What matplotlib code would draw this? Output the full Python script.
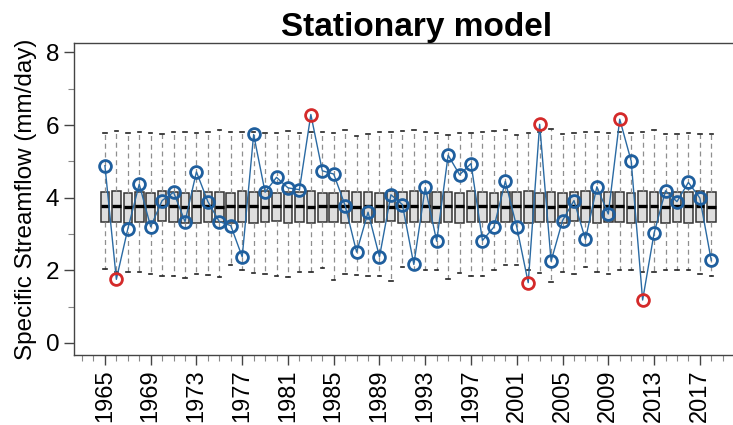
import numpy as np
import matplotlib
matplotlib.use("Agg")
import matplotlib.pyplot as plt
from matplotlib.ticker import MultipleLocator

plt.rcParams['font.family'] = ['Liberation Sans', 'DejaVu Sans']

# years of record
years = list(range(1965, 2019))

# observed specific streamflow (mm/day)
observed = [4.88, 1.75, 3.14, 4.37, 3.20, 3.92, 4.15, 3.34, 4.71, 3.89,
            3.34, 3.23, 2.37, 5.74, 4.15, 4.56, 4.27, 4.22, 6.29, 4.74,
            4.65, 3.78, 2.50, 3.60, 2.37, 4.08, 3.81, 2.16, 4.28, 2.80,
            5.17, 4.63, 4.94, 2.82, 3.19, 4.45, 3.19, 1.66, 6.02, 2.25,
            3.37, 3.92, 2.85, 4.30, 3.55, 6.16, 5.01, 1.18, 3.02, 4.19,
            3.89, 4.42, 3.99, 2.27]

# stationary model boxplot statistics per year
whis_hi = [5.78, 5.84, 5.78, 5.80, 5.78, 5.75, 5.82, 5.80, 5.78, 5.80,
           5.86, 5.82, 5.82, 5.80, 5.78, 5.78, 5.84, 5.78, 5.82, 5.80,
           5.78, 5.87, 5.71, 5.75, 5.82, 5.82, 5.84, 5.86, 5.80, 5.78,
           5.73, 5.78, 5.78, 5.80, 5.84, 5.87, 5.73, 5.78, 5.80, 5.90,
           5.75, 5.78, 5.82, 5.80, 5.78, 5.80, 5.78, 5.80, 5.86, 5.75,
           5.75, 5.78, 5.75, 5.75]
q3 = [4.15, 4.19, 4.14, 4.16, 4.13, 4.17, 4.15, 4.14, 4.18, 4.15,
      4.16, 4.13, 4.17, 4.15, 4.18, 4.14, 4.16, 4.15, 4.17, 4.14,
      4.13, 4.18, 4.15, 4.16, 4.14, 4.19, 4.15, 4.17, 4.13, 4.16,
      4.15, 4.14, 4.18, 4.15, 4.13, 4.16, 4.15, 4.17, 4.14, 4.16,
      4.12, 4.15, 4.18, 4.14, 4.16, 4.15, 4.13, 4.17, 4.15, 4.14,
      4.16, 4.15, 4.17, 4.15]
median = [3.77, 3.76, 3.75, 3.77, 3.76, 3.78, 3.76, 3.75, 3.77, 3.76,
          3.74, 3.77, 3.76, 3.78, 3.75, 3.76, 3.77, 3.76, 3.75, 3.77,
          3.76, 3.78, 3.74, 3.76, 3.77, 3.75, 3.76, 3.78, 3.76, 3.75,
          3.77, 3.76, 3.74, 3.77, 3.76, 3.75, 3.78, 3.76, 3.77, 3.75,
          3.76, 3.77, 3.74, 3.76, 3.78, 3.76, 3.75, 3.77, 3.76, 3.75,
          3.78, 3.76, 3.77, 3.75]
q1 = [3.32, 3.34, 3.30, 3.33, 3.31, 3.35, 3.32, 3.30, 3.29, 3.33,
      3.34, 3.31, 3.32, 3.30, 3.33, 3.35, 3.31, 3.32, 3.30, 3.34,
      3.32, 3.29, 3.33, 3.31, 3.32, 3.35, 3.30, 3.33, 3.32, 3.31,
      3.34, 3.30, 3.32, 3.33, 3.31, 3.32, 3.34, 3.30, 3.33, 3.32,
      3.31, 3.35, 3.32, 3.30, 3.33, 3.32, 3.31, 3.34, 3.32, 3.30,
      3.33, 3.31, 3.32, 3.33]
whis_lo = [2.04, 1.95, 1.95, 1.95, 1.90, 1.85, 1.83, 1.80, 1.90, 1.87,
           1.82, 2.15, 2.01, 1.92, 1.89, 1.85, 1.81, 1.95, 1.95, 2.05,
           1.73, 1.89, 1.87, 1.85, 1.83, 1.71, 2.10, 2.02, 2.01, 2.01,
           1.76, 1.92, 1.83, 1.83, 2.01, 2.15, 2.15, 2.00, 1.92, 1.69,
           1.95, 1.89, 2.10, 1.95, 1.89, 2.01, 2.01, 1.95, 1.95, 2.01,
           2.01, 2.01, 1.89, 1.83]

stats = []
for i in range(len(years)):
    stats.append({'whislo': whis_lo[i], 'q1': q1[i], 'med': median[i],
                  'q3': q3[i], 'whishi': whis_hi[i], 'fliers': []})

fig = plt.figure(figsize=(7.33, 4.25), dpi=100)
ax = fig.add_axes([0.101, 0.165, 0.899, 0.733])

ax.bxp(stats, positions=years, widths=0.75, patch_artist=True,
       showfliers=False, capwidths=0.3,
       boxprops=dict(facecolor='#dedede', edgecolor='#333333', linewidth=1.1),
       medianprops=dict(color='black', linewidth=2.4),
       whiskerprops=dict(color='#8f8f8f', linewidth=0.9, linestyle=(0, (4, 3))),
       capprops=dict(color='#222222', linewidth=1.2))

obs = np.array(observed)
outside = (obs > np.array(whis_hi)) | (obs < np.array(whis_lo))
ax.plot(years, observed, color='#2a6aa3', linewidth=1.0, zorder=4)
ax.plot(np.array(years)[~outside], obs[~outside], 'o', ms=8.5, mfc='none',
        mec='#1f5f9e', mew=2.0, zorder=5)
ax.plot(np.array(years)[outside], obs[outside], 'o', ms=8.5, mfc='none',
        mec='#d42a2a', mew=2.0, zorder=5)

ax.set_xlim(1962.3, 2019.9)
ax.set_ylim(-0.33, 8.25)
ax.set_yticks([0, 2, 4, 6, 8])
ax.yaxis.set_minor_locator(MultipleLocator(1))
ax.set_xticks(years[::4])
ax.set_xticklabels([str(y) for y in years[::4]], rotation=90)
ax.xaxis.set_minor_locator(MultipleLocator(1))

ax.tick_params(axis='y', which='major', labelsize=17.5, length=7,
               color='#444444', width=1)
ax.tick_params(axis='x', which='major', labelsize=17, length=7,
               color='#444444', width=1)
ax.tick_params(axis='both', which='minor', length=4, color='#888888', width=0.8)
ax.spines['right'].set_visible(False)
for s in ['left', 'bottom', 'top']:
    ax.spines[s].set_color('#444444')
    ax.spines[s].set_linewidth(1.0)

ax.set_ylabel('Specific Streamflow (mm/day)', fontsize=17.5, labelpad=6)
ax.set_title('Stationary model', fontsize=24, fontweight='bold', pad=4, x=0.52)

fig.savefig('out.png', dpi=100)
